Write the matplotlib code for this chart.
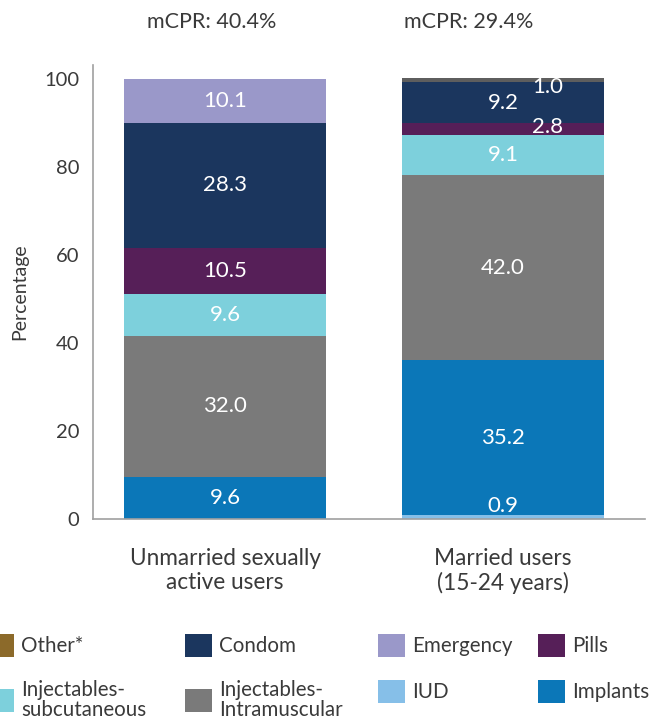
import matplotlib.pyplot as plt
from matplotlib.patches import Patch

plt.rcParams['font.family'] = ['Lato', 'DejaVu Sans']

groups = ['Unmarried sexually\nactive users', 'Married users\n(15-24 years)']
mcpr = ['mCPR: 40.4%', 'mCPR: 29.4%']

# stacking order bottom -> top
methods = ['IUD', 'Implants', 'Injectables-\nIntramuscular', 'Injectables-\nsubcutaneous',
           'Pills', 'Condom', 'Emergency', 'Other*']
unmarried = [0.0, 9.6, 32.0, 9.6, 10.5, 28.3, 10.1, 0.0]
married = [0.9, 35.2, 42.0, 9.1, 2.8, 9.2, 0.0, 1.0]

colors = {
    'IUD': '#86bfe8',
    'Implants': '#0b77b8',
    'Injectables-\nIntramuscular': '#7a7a7a',
    'Injectables-\nsubcutaneous': '#7dd0dc',
    'Pills': '#561f58',
    'Condom': '#1b365e',
    'Emergency': '#9a98c9',
    'Other*': '#8c6a2a',
}
bar_colors = dict(colors)
bar_colors['Other*'] = '#5e5e5e'

# small segments whose labels are nudged (dx, dy in data units)
nudge = {(1, 'IUD'): (0, 2.5), (1, 'Other*'): (0.16, -1.6), (1, 'Pills'): (0.16, 0.4)}

fig = plt.figure(figsize=(6.5, 7.21), dpi=100)
ax = fig.add_axes([0.143, 0.280, 0.849, 0.630])

x = [0, 1]
width = 0.727
bottoms = [0.0, 0.0]
for i, m in enumerate(methods):
    vals = [unmarried[i], married[i]]
    ax.bar(x, vals, width, bottom=bottoms, color=bar_colors[m], edgecolor='none')
    for j in range(2):
        v = vals[j]
        if v > 0:
            dx, dy = nudge.get((j, m), (0, 0))
            ax.text(x[j] + dx, bottoms[j] + v / 2 + dy, f'{v:.1f}', ha='center', va='center',
                    color='white', fontsize=16)
    bottoms = [bottoms[k] + vals[k] for k in range(2)]

mcpr_dx = [-9.5, -24.5]
for j in range(2):
    ax.annotate(mcpr[j], (x[j], 1.0), xycoords=ax.get_xaxis_transform(),
                xytext=(mcpr_dx[j], 31), textcoords='offset points', ha='center', va='center',
                fontsize=15.5, color='#3a3a3a')

ax.set_xlim(-0.475, 1.51)
ax.set_ylim(0, 103.2)
ax.set_yticks([0, 20, 40, 60, 80, 100])
ax.set_xticks(x)
ax.set_xticklabels(groups, fontsize=16.3, color='#3a3a3a', linespacing=1.15)
ax.tick_params(axis='x', length=0, pad=21)
ax.tick_params(axis='y', length=0, pad=10, labelsize=14.5, labelcolor='#3a3a3a')
ax.set_ylabel('Percentage', fontsize=14, color='#3a3a3a', labelpad=11)
for s in ['top', 'right']:
    ax.spines[s].set_visible(False)
for s in ['left', 'bottom']:
    ax.spines[s].set_color('#a0a0a0')
    ax.spines[s].set_linewidth(1.2)

legend_cols = [['Other*', 'Injectables-\nsubcutaneous'],
               ['Condom', 'Injectables-\nIntramuscular'],
               ['Emergency', 'IUD'],
               ['Pills', 'Implants']]
col_x = [-13, 185, 378, 538]
for cx, col in zip(col_x, legend_cols):
    handles = [Patch(facecolor=colors[m], edgecolor='none') for m in col]
    leg = fig.legend(handles, col, loc='upper left', bbox_to_anchor=(cx / 650, 1 - 634 / 721),
                     frameon=False, fontsize=14.8, handlelength=1.3, handleheight=1.35,
                     handletextpad=0.35, labelspacing=1.1, borderpad=0, borderaxespad=0)
    for t in leg.get_texts():
        t.set_color('#3a3a3a')
        t.set_linespacing(1.0)

fig.savefig('out.png', dpi=100)
